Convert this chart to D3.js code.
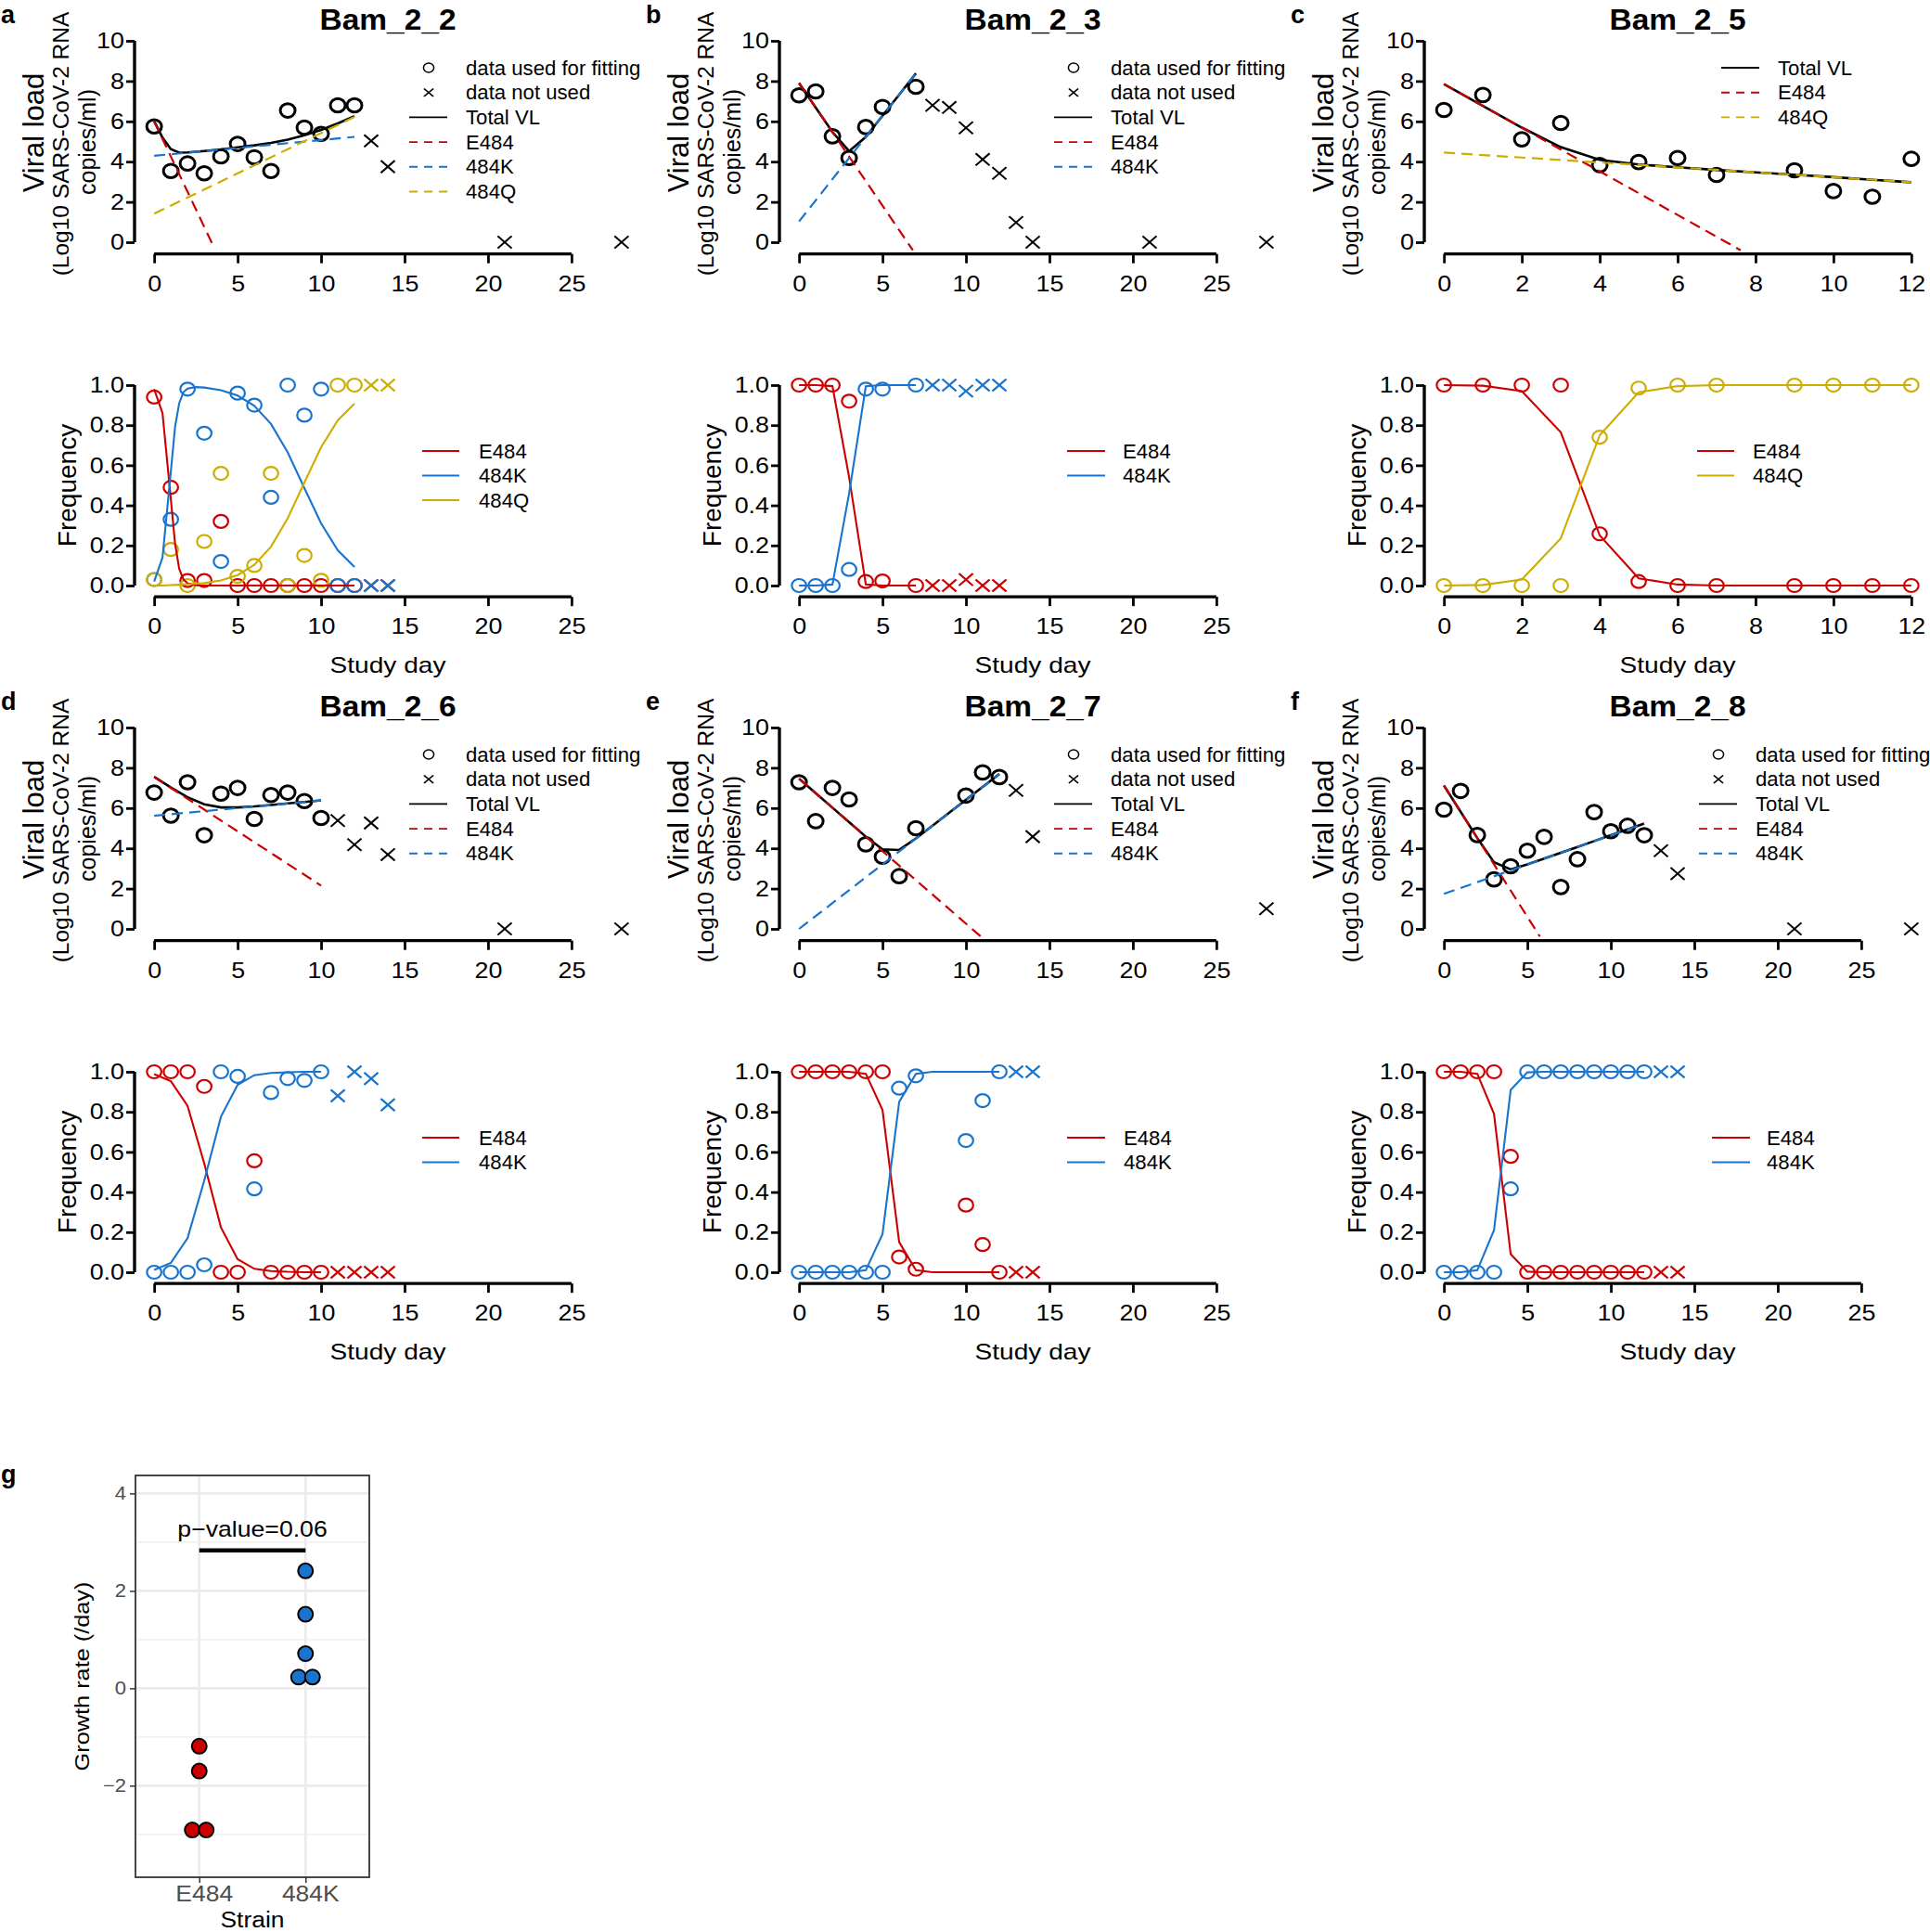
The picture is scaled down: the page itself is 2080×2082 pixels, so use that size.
<!DOCTYPE html>
<html><head><meta charset="utf-8">
<script src="https://cdn.jsdelivr.net/npm/d3@7/dist/d3.min.js"></script>
<style>body{margin:0;background:#fff}</style>
</head><body>
<svg id="c" width="2080" height="2082"></svg>
<script>
// ---------------- DATA ----------------
// Panel a: Bam_2_2
const a_vlDays = [0,1,2,3,4,5,6,7,8,9,10,11,12];
const a_vlUsed = [5.75,3.54,3.91,3.42,4.26,4.88,4.22,3.54,6.54,5.69,5.38,6.8,6.8];
const a_vlNotDays = [13,14,21,28];
const a_vlNot = [5.03,3.75,0,0];
const a_fitE484 = [[0,6.0],[3.55,-0.2]];
const a_fit484K = [[0,4.29],[12,5.23]];
const a_fit484Q = [[0,1.42],[12,6.22]];
const a_totalDays = [0,0.5,1,1.5,2,3,4,5,6,7,8,9,10,11,12];
const a_total = [6.01,5.19,4.62,4.45,4.46,4.53,4.61,4.71,4.81,4.93,5.09,5.31,5.58,5.90,6.26];
const a_freqDays = [0,1,2,3,4,5,6,7,8,9,10,11,12];
const a_freqE = [0.94,0.49,0.025,0.025,0.32,0,0,0,0,0,0,0,0];
const a_freqK = [0.03,0.33,0.98,0.76,0.12,0.96,0.90,0.44,1.0,0.85,0.98,0,0];
const a_freqQ = [0.03,0.18,0,0.22,0.56,0.046,0.10,0.56,0,0.15,0.026,1.0,1.0];
const a_freqNotDays = [13,14];
const a_freqNotE = [0,0];
const a_freqNotK = [0,0];
const a_freqNotQ = [1,1];
const a_fitFreqDays = [0,0.5,1,1.25,1.5,1.75,2,2.5,3,4,5,6,7,8,9,10,11,12];
const a_fitFreqE = [0.98,0.86,0.43,0.21,0.084,0.031,0.011,0.001,0,0,0,0,0,0,0,0,0,0];
const a_fitFreqK = [0.02,0.14,0.57,0.79,0.91,0.964,0.983,0.99,0.988,0.975,0.948,0.897,0.806,0.664,0.486,0.31,0.176,0.093];
const a_fitFreqQ = [0,0,0.002,0.003,0.004,0.005,0.006,0.009,0.012,0.025,0.052,0.103,0.194,0.336,0.514,0.69,0.824,0.907];

// Panel b: Bam_2_3
const b_vlDays = [0,1,2,3,4,5,7];
const b_vlUsed = [7.29,7.49,5.26,4.18,5.72,6.72,7.72];
const b_vlNotDays = [8,9,10,11,12,13,14,21,28];
const b_vlNot = [6.8,6.69,5.68,4.11,3.42,0.98,0,0,0];
const b_fitE484 = [[0,7.9],[6.82,-0.4]];
const b_fit484K = [[0,1.03],[7,8.38]];
const b_totalDays = [0,1,2,3,4,5,6,7];
const b_total = [7.9,6.68,5.47,4.52,5.23,6.28,7.33,8.38];
const b_freqDays = [0,1,2,3,4,5,7];
const b_freqE = [1,1,1,0.92,0.02,0.023,0];
const b_freqK = [0,0,0,0.08,0.98,0.98,1.0];
const b_freqNotDays = [8,9,10,11,12];
const b_freqNotE = [0,0,0.03,0,0];
const b_freqNotK = [1,1,0.97,1,1];
const b_fitFreqDays = [0,1,2,3,4,5,6,7];
const b_fitFreqE = [1,1,0.995,0.54,0.006,0,0,0];
const b_fitFreqK = [0,0,0.005,0.46,0.994,1,1,1];

// Panel c: Bam_2_5
const c_vlDays = [0,1,2,3,4,5,6,7,9,10,11,12];
const c_vlUsed = [6.57,7.31,5.11,5.92,3.83,3.98,4.18,3.34,3.57,2.54,2.26,4.14];
const c_fitE484 = [[0,7.85],[7.62,-0.4]];
const c_fit484Q = [[0,4.45],[12,2.98]];
const c_totalDays = [0,1,2,3,4,5,6,7,8,9,10,11,12];
const c_total = [7.85,6.77,5.69,4.72,4.09,3.86,3.72,3.59,3.47,3.35,3.23,3.10,2.98];
const c_freqDays = [0,1,2,3,4,5,6,7,9,10,11,12];
const c_freqE = [1,1,1,1,0.258,0.02,0,0,0,0,0,0];
const c_freqQ = [0,0,0,0,0.74,0.985,1,1,1,1,1,1];
const c_fitFreqDays = [0,1,2,3,4,5,6,7,8,9,10,11,12];
const c_fitFreqE = [1,0.997,0.97,0.765,0.25,0.036,0.005,0,0,0,0,0,0];
const c_fitFreqQ = [0,0.003,0.03,0.235,0.75,0.964,0.995,1,1,1,1,1,1];

// Panel d: Bam_2_6
const d_vlDays = [0,1,2,3,4,5,6,7,8,9,10];
const d_vlUsed = [6.77,5.62,7.28,4.65,6.72,7.0,5.46,6.65,6.77,6.35,5.51];
const d_vlNotDays = [11,12,13,14,21,28];
const d_vlNot = [5.38,4.18,5.26,3.69,0,0];
const d_fitE484 = [[0,7.54],[10,2.15]];
const d_fit484K = [[0,5.62],[10,6.38]];
const d_totalDays = [0,1,2,3,4,5,6,7,8,9,10];
const d_total = [7.55,7.02,6.54,6.19,6.03,6.03,6.08,6.15,6.23,6.30,6.38];
const d_freqDays = [0,1,2,3,4,5,6,7,8,9,10];
const d_freqE = [1,1,1,0.927,0,0,0.556,0,0,0,0];
const d_freqK = [0,0,0,0.037,1.0,0.977,0.416,0.896,0.966,0.957,1.0];
const d_freqNotDays = [11,12,13,14];
const d_freqNotE = [0,0,0,0];
const d_freqNotK = [0.88,1.0,0.966,0.835];
const d_fitFreqDays = [0,1,2,3,4,5,6,7,8,9,10];
const d_fitFreqE = [0.988,0.953,0.83,0.543,0.224,0.065,0.017,0.006,0.002,0,0];
const d_fitFreqK = [0.012,0.047,0.17,0.457,0.776,0.935,0.983,0.994,0.998,1,1];

// Panel e: Bam_2_7
const e_vlDays = [0,1,2,3,4,5,6,7,10,11,12];
const e_vlUsed = [7.28,5.35,7.0,6.43,4.2,3.58,2.62,5.0,6.62,7.77,7.54];
const e_vlNotDays = [13,14,28];
const e_vlNot = [6.88,4.58,1.0];
const e_fitE484 = [[0,7.46],[10.89,-0.38]];
const e_fit484K = [[0,0],[12,7.69]];
const e_totalDays = [0,1,2,3,4,5,6,7,8,9,10,11,12];
const e_total = [7.46,6.74,6.02,5.30,4.58,3.95,3.92,4.49,5.13,5.77,6.41,7.05,7.69];
const e_freqDays = [0,1,2,3,4,5,6,7,10,11,12];
const e_freqE = [1,1,1,1,1,1,0.076,0.015,0.335,0.138,0];
const e_freqK = [0,0,0,0,0,0,0.918,0.98,0.657,0.856,1.0];
const e_freqNotDays = [13,14];
const e_freqNotE = [0,0];
const e_freqNotK = [1,1];
const e_fitFreqDays = [0,1,2,3,4,5,6,7,8,9,10,11,12];
const e_fitFreqE = [1,1,1,1,0.99,0.81,0.15,0.01,0,0,0,0,0];
const e_fitFreqK = [0,0,0,0,0.01,0.19,0.85,0.99,1,1,1,1,1];

// Panel f: Bam_2_8
const f_vlDays = [0,1,2,3,4,5,6,7,8,9,10,11,12];
const f_vlUsed = [5.92,6.85,4.66,2.46,3.11,3.88,4.57,2.08,3.46,5.8,4.85,5.12,4.65];
const f_vlNotDays = [13,14,21,28];
const f_vlNot = [3.88,2.74,0,0];
const f_fitE484 = [[0,7.12],[5.75,-0.38]];
const f_fit484K = [[0,1.74],[12,5.23]];
const f_totalDays = [0,1,2,3,4,5,6,7,8,9,10,11,12];
const f_total = [7.12,5.82,4.51,3.31,2.95,3.20,3.49,3.78,4.07,4.36,4.65,4.94,5.23];
const f_freqDays = [0,1,2,3,4,5,6,7,8,9,10,11,12];
const f_freqE = [1,1,1,1,0.578,0,0,0,0,0,0,0,0];
const f_freqK = [0,0,0,0,0.416,1,1,1,1,1,1,1,1];
const f_freqNotDays = [13,14];
const f_freqNotE = [0,0];
const f_freqNotK = [1,1];
const f_fitFreqDays = [0,1,2,3,4,5,6,7,8,9,10,11,12];
const f_fitFreqE = [1,1,0.99,0.79,0.09,0.003,0,0,0,0,0,0,0];
const f_fitFreqK = [0,0,0.01,0.21,0.91,0.997,1,1,1,1,1,1,1];

// Panel g: growth rates
const g_strains = ["E484","484K"];
const g_rateE484 = [-1.19,-1.70,-2.91,-2.91];
const g_rate484K = [2.41,1.52,0.71,0.23,0.23];
const g_pLabel = "p\u2212value=0.06";
const g_barLevel = 2.83;

// tick labels
const vlTicks = [0,2,4,6,8,10];
const freqTicks = [0,0.2,0.4,0.6,0.8,1.0];
const dayTicks25 = [0,5,10,15,20,25];
const dayTicks12 = [0,2,4,6,8,10,12];
const gTicks = [-2,0,2,4];
const gMinor = [-3,-1,1,3];

// ---------------- STYLE ----------------
const RED = "#CD0000", BLUE = "#1874CD", GOLD = "#CDAD00";
const FONT = '"Liberation Sans", Arial, Helvetica, sans-serif';
const svg = d3.select("#c");
svg.append("rect").attr("width",2080).attr("height",2082).attr("fill","#fff");

function squeeze(sel, k){
  if (k === 1) return;
  sel.each(function(){
    const L = this.getComputedTextLength();
    if (L > 0) d3.select(this).attr("textLength", (L*k).toFixed(2)).attr("lengthAdjust","spacingAndGlyphs");
  });
}
function txt(g, s, x, y, o = {}){
  const t = g.append("text")
    .attr("transform", `translate(${x},${y})` + (o.rot ? ` rotate(${o.rot})` : ""))
    .attr("text-anchor", o.anchor || "start")
    .attr("font-family", FONT)
    .attr("font-size", o.size || 20)
    .attr("font-weight", o.bold ? "bold" : null)
    .attr("fill", o.fill || "#000")
    .text(s);
  squeeze(t, o.sx === undefined ? 1 : o.sx);
  return t;
}
const zip = (xs, ys) => xs.map((d,i) => [d, ys[i]]);

const LEG_VL = {l0:441, l1:482, sym:462, tx:502};
const panels = [
  {letter:"a", title:"Bam_2_2", col:0, row:0, xMax:28, xTicks:dayTicks25,
   vlUsed:zip(a_vlDays,a_vlUsed), vlNot:zip(a_vlNotDays,a_vlNot),
   total:zip(a_totalDays,a_total),
   fits:[{d:a_fitE484,c:RED},{d:a_fit484K,c:BLUE},{d:a_fit484Q,c:GOLD}],
   vlLegend:[["circle","#000","data used for fitting"],["cross","#000","data not used"],["line","#000","Total VL"],["dash",RED,"E484"],["dash",BLUE,"484K"],["dash",GOLD,"484Q"]],
   vlLeg:LEG_VL,
   freq:[
     {c:RED, used:zip(a_freqDays,a_freqE), not:zip(a_freqNotDays,a_freqNotE), fit:zip(a_fitFreqDays,a_fitFreqE)},
     {c:BLUE, used:zip(a_freqDays,a_freqK), not:zip(a_freqNotDays,a_freqNotK), fit:zip(a_fitFreqDays,a_fitFreqK)},
     {c:GOLD, used:zip(a_freqDays,a_freqQ), not:zip(a_freqNotDays,a_freqNotQ), fit:zip(a_fitFreqDays,a_fitFreqQ)}],
   fLegend:[[RED,"E484"],[BLUE,"484K"],[GOLD,"484Q"]], fLeg:{l0:455,l1:495,tx:516}},
  {letter:"b", title:"Bam_2_3", col:1, row:0, xMax:28, xTicks:dayTicks25,
   vlUsed:zip(b_vlDays,b_vlUsed), vlNot:zip(b_vlNotDays,b_vlNot),
   total:zip(b_totalDays,b_total),
   fits:[{d:b_fitE484,c:RED},{d:b_fit484K,c:BLUE}],
   vlLegend:[["circle","#000","data used for fitting"],["cross","#000","data not used"],["line","#000","Total VL"],["dash",RED,"E484"],["dash",BLUE,"484K"]],
   vlLeg:LEG_VL,
   freq:[
     {c:RED, used:zip(b_freqDays,b_freqE), not:zip(b_freqNotDays,b_freqNotE), fit:zip(b_fitFreqDays,b_fitFreqE)},
     {c:BLUE, used:zip(b_freqDays,b_freqK), not:zip(b_freqNotDays,b_freqNotK), fit:zip(b_fitFreqDays,b_fitFreqK)}],
   fLegend:[[RED,"E484"],[BLUE,"484K"]], fLeg:{l0:455,l1:496,tx:515}},
  {letter:"c", title:"Bam_2_5", col:2, row:0, xMax:12, xTicks:dayTicks12,
   vlUsed:zip(c_vlDays,c_vlUsed), vlNot:[],
   total:zip(c_totalDays,c_total),
   fits:[{d:c_fitE484,c:RED},{d:c_fit484Q,c:GOLD}],
   vlLegend:[["line","#000","Total VL"],["dash",RED,"E484"],["dash",GOLD,"484Q"]],
   vlLeg:{l0:465,l1:506,sym:485,tx:526},
   freq:[
     {c:RED, used:zip(c_freqDays,c_freqE), not:[], fit:zip(c_fitFreqDays,c_fitFreqE)},
     {c:GOLD, used:zip(c_freqDays,c_freqQ), not:[], fit:zip(c_fitFreqDays,c_fitFreqQ)}],
   fLegend:[[RED,"E484"],[GOLD,"484Q"]], fLeg:{l0:439,l1:479,tx:499}},
  {letter:"d", title:"Bam_2_6", col:0, row:1, xMax:28, xTicks:dayTicks25,
   vlUsed:zip(d_vlDays,d_vlUsed), vlNot:zip(d_vlNotDays,d_vlNot),
   total:zip(d_totalDays,d_total),
   fits:[{d:d_fitE484,c:RED},{d:d_fit484K,c:BLUE}],
   vlLegend:[["circle","#000","data used for fitting"],["cross","#000","data not used"],["line","#000","Total VL"],["dash",RED,"E484"],["dash",BLUE,"484K"]],
   vlLeg:LEG_VL,
   freq:[
     {c:RED, used:zip(d_freqDays,d_freqE), not:zip(d_freqNotDays,d_freqNotE), fit:zip(d_fitFreqDays,d_fitFreqE)},
     {c:BLUE, used:zip(d_freqDays,d_freqK), not:zip(d_freqNotDays,d_freqNotK), fit:zip(d_fitFreqDays,d_fitFreqK)}],
   fLegend:[[RED,"E484"],[BLUE,"484K"]], fLeg:{l0:455,l1:495,tx:516}},
  {letter:"e", title:"Bam_2_7", col:1, row:1, xMax:28, xTicks:dayTicks25,
   vlUsed:zip(e_vlDays,e_vlUsed), vlNot:zip(e_vlNotDays,e_vlNot),
   total:zip(e_totalDays,e_total),
   fits:[{d:e_fitE484,c:RED},{d:e_fit484K,c:BLUE}],
   vlLegend:[["circle","#000","data used for fitting"],["cross","#000","data not used"],["line","#000","Total VL"],["dash",RED,"E484"],["dash",BLUE,"484K"]],
   vlLeg:LEG_VL,
   freq:[
     {c:RED, used:zip(e_freqDays,e_freqE), not:zip(e_freqNotDays,e_freqNotE), fit:zip(e_fitFreqDays,e_fitFreqE)},
     {c:BLUE, used:zip(e_freqDays,e_freqK), not:zip(e_freqNotDays,e_freqNotK), fit:zip(e_fitFreqDays,e_fitFreqK)}],
   fLegend:[[RED,"E484"],[BLUE,"484K"]], fLeg:{l0:455,l1:496,tx:516}},
  {letter:"f", title:"Bam_2_8", col:2, row:1, xMax:28, xTicks:dayTicks25,
   vlUsed:zip(f_vlDays,f_vlUsed), vlNot:zip(f_vlNotDays,f_vlNot),
   total:zip(f_totalDays,f_total),
   fits:[{d:f_fitE484,c:RED},{d:f_fit484K,c:BLUE}],
   vlLegend:[["circle","#000","data used for fitting"],["cross","#000","data not used"],["line","#000","Total VL"],["dash",RED,"E484"],["dash",BLUE,"484K"]],
   vlLeg:LEG_VL,
   freq:[
     {c:RED, used:zip(f_freqDays,f_freqE), not:zip(f_freqNotDays,f_freqNotE), fit:zip(f_fitFreqDays,f_fitFreqE)},
     {c:BLUE, used:zip(f_freqDays,f_freqK), not:zip(f_freqNotDays,f_freqNotK), fit:zip(f_fitFreqDays,f_fitFreqK)}],
   fLegend:[[RED,"E484"],[BLUE,"484K"]], fLeg:{l0:455,l1:496,tx:514}}
];

const crossPath = d3.symbol(d3.symbolX, 105)();
const crossSmall = d3.symbol(d3.symbolX, 48)();

function xAxisR(g, x, yPos, ticks){
  const ax = g.append("g").attr("transform", `translate(0,${yPos})`)
    .call(d3.axisBottom(x).tickValues(ticks).tickSize(10).tickPadding(13).tickFormat(d3.format("d")));
  ax.select(".domain").attr("d", `M${x(ticks[0])},0H${x(ticks[ticks.length-1])}`).attr("stroke-width",3.2).attr("stroke","#000");
  ax.selectAll(".tick line").attr("stroke-width",2.8).attr("stroke","#000");
  ax.attr("font-family",FONT).attr("font-size",24);
  ax.selectAll(".tick text").attr("fill","#000");
  squeeze(ax.selectAll(".tick text"), 1.12);
}
function yAxisR(g, y, xPos, ticks, fmt){
  const ax = g.append("g").attr("transform", `translate(${xPos},0)`)
    .call(d3.axisLeft(y).tickValues(ticks).tickSize(9).tickPadding(2).tickFormat(fmt));
  ax.select(".domain").attr("d", `M0,${y(ticks[0])}V${y(ticks[ticks.length-1])}`).attr("stroke-width",3.4).attr("stroke","#000");
  ax.selectAll(".tick line").attr("stroke-width",2.8).attr("stroke","#000");
  ax.attr("font-family",FONT).attr("font-size",24);
  ax.selectAll(".tick text").attr("fill","#000");
  squeeze(ax.selectAll(".tick text"), 1.12);
}

function drawPanel(p){
  const colX = [0,695,1390][p.col];
  const X0 = colX + 146, W = 544, dy = p.row*740;
  const x = d3.scaleLinear().domain([-0.04*p.xMax, 1.04*p.xMax]).range([X0, X0+W]);
  const yV = d3.scaleLinear().domain([0,10]).range([dy+261, dy+44]);
  const yF = d3.scaleLinear().domain([0,1]).range([dy+631, dy+415]);
  const cx = X0 + W/2;
  const g = svg.append("g");

  txt(g, p.letter, colX+1, dy+25, {size:27, bold:true});
  txt(g, p.title, cx, dy+32, {size:31, bold:true, anchor:"middle", sx:1.08});

  // ----- viral load plot -----
  const cid = "clipV" + p.letter;
  svg.append("clipPath").attr("id", cid).append("rect")
    .attr("x", X0).attr("y", yV(10.4)).attr("width", W).attr("height", yV(-0.4)-yV(10.4)+2);
  xAxisR(g, x, yV(-0.4)+4, p.xTicks);
  yAxisR(g, yV, X0-1, vlTicks, d3.format("d"));
  txt(g, "Viral load", colX+47, dy+143, {size:31, rot:-90, anchor:"middle"});
  txt(g, "(Log10 SARS-CoV-2 RNA", colX+74, dy+155, {size:24.5, rot:-90, anchor:"middle"});
  txt(g, "copies/ml)", colX+103, dy+153, {size:25, rot:-90, anchor:"middle"});

  const pv = g.append("g");
  pv.selectAll("ellipse").data(p.vlUsed).join("ellipse")
    .attr("cx", d => x(d[0])).attr("cy", d => yV(d[1])).attr("rx", 8).attr("ry", 7.3)
    .attr("fill","none").attr("stroke","#000").attr("stroke-width",3);
  pv.selectAll("path").data(p.vlNot).join("path")
    .attr("d", crossPath).attr("transform", d => `translate(${x(d[0])},${yV(d[1])}) scale(1.2,1.05)`)
    .attr("fill","none").attr("stroke","#000").attr("stroke-width",1.8);

  const lineV = d3.line().x(d => x(d[0])).y(d => yV(d[1]));
  const lv = g.append("g").attr("clip-path", `url(#${cid})`);
  lv.append("path").attr("d", lineV(p.total)).attr("fill","none").attr("stroke","#000").attr("stroke-width",2.6);
  p.fits.forEach(f => {
    lv.append("path").attr("d", lineV(f.d)).attr("fill","none").attr("stroke", f.c)
      .attr("stroke-width",2.2).attr("stroke-dasharray","12,7");
  });

  // VL legend
  p.vlLegend.forEach((it, i) => {
    const yy = dy + 73 + i*26.7;
    const [type, col, lab] = it;
    if (type === "circle") g.append("ellipse").attr("cx", colX+p.vlLeg.sym).attr("cy", yy).attr("rx",5.6).attr("ry",5).attr("fill","none").attr("stroke",col).attr("stroke-width",1.5);
    else if (type === "cross") g.append("path").attr("d", crossSmall).attr("transform", `translate(${colX+p.vlLeg.sym},${yy}) scale(1.2,1)`).attr("fill","none").attr("stroke",col).attr("stroke-width",1.5);
    else g.append("line").attr("x1", colX+p.vlLeg.l0).attr("x2", colX+p.vlLeg.l1).attr("y1", yy).attr("y2", yy)
      .attr("stroke", col).attr("stroke-width",1.9).attr("stroke-dasharray", type === "dash" ? "9,7" : null);
    txt(g, lab, colX+p.vlLeg.tx, yy+7.5, {size:21.5, sx:1.03});
  });

  // ----- frequency plot -----
  xAxisR(g, x, yF(-0.04)+3.5, p.xTicks);
  yAxisR(g, yF, X0-1, freqTicks, d3.format(".1f"));
  txt(g, "Frequency", colX+82, dy+523, {size:28, rot:-90, anchor:"middle"});
  txt(g, "Study day", cx, dy+725, {size:24, anchor:"middle", sx:1.17});

  const lineF = d3.line().x(d => x(d[0])).y(d => yF(d[1]));
  p.freq.forEach(s => {
    const gs = g.append("g");
    gs.selectAll("ellipse").data(s.used).join("ellipse")
      .attr("cx", d => x(d[0])).attr("cy", d => yF(d[1])).attr("rx", 7.8).attr("ry", 7)
      .attr("fill","none").attr("stroke", s.c).attr("stroke-width",2.2);
    gs.selectAll("path.x").data(s.not).join("path").attr("class","x")
      .attr("d", crossPath).attr("transform", d => `translate(${x(d[0])},${yF(d[1])}) scale(1.2,1.05)`)
      .attr("fill","none").attr("stroke", s.c).attr("stroke-width",2);
  });
  p.freq.forEach(s => {
    g.append("path").attr("d", lineF(s.fit)).attr("fill","none").attr("stroke", s.c).attr("stroke-width",2.1);
  });
  p.fLegend.forEach((it, i) => {
    const yy = dy + 486 + i*26.5;
    g.append("line").attr("x1", colX+p.fLeg.l0).attr("x2", colX+p.fLeg.l1).attr("y1", yy).attr("y2", yy)
      .attr("stroke", it[0]).attr("stroke-width",1.9);
    txt(g, it[1], colX+p.fLeg.tx, yy+7.5, {size:21.5, sx:1.03});
  });
}
panels.forEach(drawPanel);

// ----- panel g -----
(function(){
  const L = 146, R = 398, T = 1590, B = 2023;
  const gx = d3.scalePoint().domain(g_strains).range([L, R]).padding(0.6);
  const gy = d3.scaleLinear().domain([-3.88, 4.37]).range([B, T]);
  const G = svg.append("g");
  txt(G, "g", 1, 1598, {size:27, bold:true});
  G.selectAll("line.mn").data(gMinor).join("line").attr("class","mn")
    .attr("x1", L).attr("x2", R).attr("y1", d => gy(d)).attr("y2", d => gy(d))
    .attr("stroke","#EBEBEB").attr("stroke-width",1.3);
  G.selectAll("line.mj").data(gTicks).join("line").attr("class","mj")
    .attr("x1", L).attr("x2", R).attr("y1", d => gy(d)).attr("y2", d => gy(d))
    .attr("stroke","#EBEBEB").attr("stroke-width",2.6);
  G.selectAll("line.vx").data(g_strains).join("line").attr("class","vx")
    .attr("x1", d => gx(d)).attr("x2", d => gx(d)).attr("y1", T).attr("y2", B)
    .attr("stroke","#EBEBEB").attr("stroke-width",2.6);

  const ya = G.append("g").attr("transform", `translate(${L},0)`)
    .call(d3.axisLeft(gy).tickValues(gTicks).tickSize(6).tickPadding(4).tickFormat(d => d < 0 ? "\u2212" + Math.abs(d) : String(d)));
  ya.select(".domain").remove();
  ya.attr("font-family", FONT).attr("font-size", 20);
  ya.selectAll(".tick line").attr("stroke","#333").attr("stroke-width",1.5);
  ya.selectAll(".tick text").attr("fill","#4D4D4D");
  squeeze(ya.selectAll(".tick text"), 1.1);
  const xa = G.append("g").attr("transform", `translate(0,${B})`)
    .call(d3.axisBottom(gx).tickSize(6).tickPadding(4));
  xa.select(".domain").remove();
  xa.attr("font-family", FONT).attr("font-size", 23);
  xa.selectAll(".tick line").attr("stroke","#333").attr("stroke-width",1.5);
  xa.selectAll(".tick text").attr("fill","#4D4D4D").attr("dx", 5);
  squeeze(xa.selectAll(".tick text"), 1.15);

  G.append("rect").attr("x", L).attr("y", T).attr("width", R-L).attr("height", B-T)
    .attr("fill","none").attr("stroke","#333").attr("stroke-width",1.8);

  txt(G, "Strain", (L+R)/2, 2077, {size:23, anchor:"middle", sx:1.15});
  txt(G, "Growth rate (/day)", 96, (T+B)/2, {size:22, rot:-90, anchor:"middle", sx:1.15});

  // points (side-by-side when values tie)
  const pts = [];
  [[g_strains[0], g_rateE484, RED], [g_strains[1], g_rate484K, BLUE]].forEach(([s, vals, col]) => {
    const groups = d3.group(vals.map((v,i) => ({v, i})), d => d.v);
    groups.forEach(arr => arr.forEach((d, j) => pts.push({s, v:d.v, col, off:(j - (arr.length-1)/2)*15})));
  });
  G.selectAll("circle.pt").data(pts).join("circle").attr("class","pt")
    .attr("cx", d => gx(d.s) + d.off).attr("cy", d => gy(d.v)).attr("r", 8)
    .attr("fill", d => d.col).attr("stroke","#000").attr("stroke-width",2);

  G.append("line").attr("x1", gx(g_strains[0])).attr("x2", gx(g_strains[1]))
    .attr("y1", gy(g_barLevel)).attr("y2", gy(g_barLevel)).attr("stroke","#000").attr("stroke-width",4.5);
  txt(G, g_pLabel, (gx(g_strains[0])+gx(g_strains[1]))/2, gy(g_barLevel)-15, {size:24, anchor:"middle", sx:1.11});
})();
</script>
</body></html>
